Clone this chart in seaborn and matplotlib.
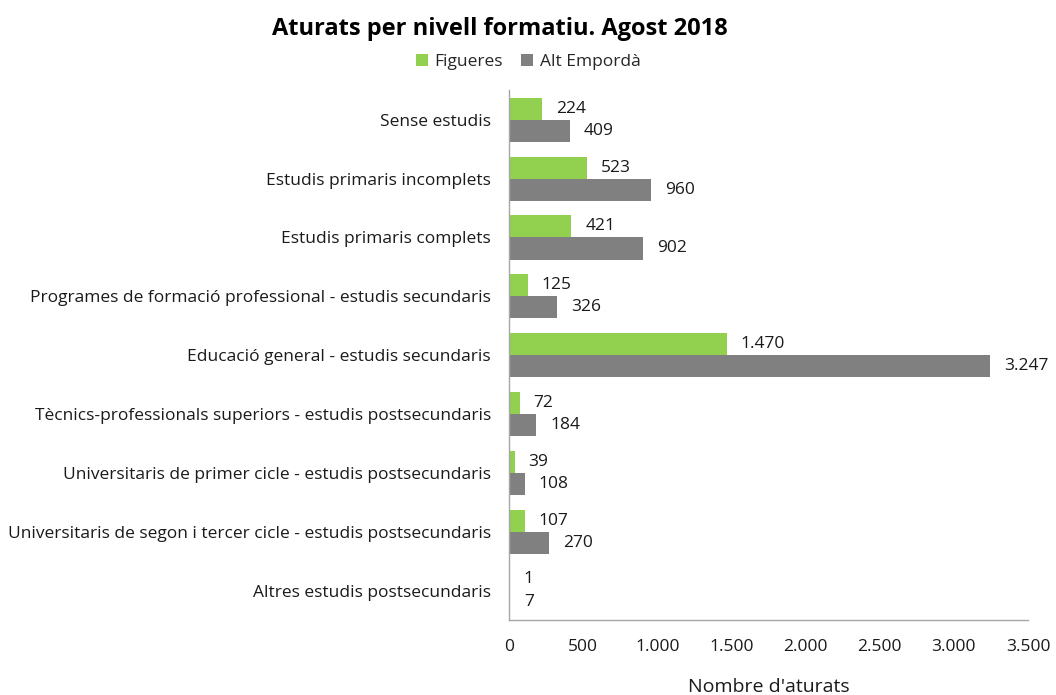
import pandas as pd
import matplotlib.pyplot as plt
import matplotlib.ticker as mticker
import seaborn as sns

# =====================================================
# DATA
# =====================================================

categories = [
    "Sense estudis",
    "Estudis primaris incomplets",
    "Estudis primaris complets",
    "Programes de formació professional - estudis secundaris",
    "Educació general - estudis secundaris",
    "Tècnics-professionals superiors - estudis postsecundaris",
    "Universitaris de primer cicle - estudis postsecundaris",
    "Universitaris de segon i tercer cicle - estudis postsecundaris",
    "Altres estudis postsecundaris",
]
figueres = [224, 523, 421, 125, 1470, 72, 39, 107, 1]
alt_emporda = [409, 960, 902, 326, 3247, 184, 108, 270, 7]
series_names = ["Figueres", "Alt Empordà"]
x_ticks = [0, 500, 1000, 1500, 2000, 2500, 3000, 3500]

df = pd.DataFrame({
    "nivell": categories * 2,
    "aturats": figueres + alt_emporda,
    "serie": [series_names[0]] * len(categories) + [series_names[1]] * len(categories),
})

# =====================================================
# PLOT
# =====================================================

sns.set_style("white")
plt.rcParams["font.family"] = ["Open Sans", "DejaVu Sans"]

fig = plt.figure(figsize=(10.56, 6.95), dpi=100)
ax = fig.add_axes([0.482, 0.108, 0.4915, 0.762])

sns.barplot(
    data=df,
    x="aturats",
    y="nivell",
    hue="serie",
    orient="h",
    palette=["#92D050", "#808080"],
    width=0.75,
    saturation=1,
    linewidth=0,
    ax=ax,
)


def fmt(v):
    return f"{int(v):,}".replace(",", ".")


for cont in ax.containers:
    ax.bar_label(cont, labels=[fmt(v) for v in cont.datavalues],
                 padding=10, fontsize=12.5, color="#1a1a1a")

ax.set_xlim(0, 3500)
ax.set_xticks(x_ticks)
ax.xaxis.set_major_formatter(mticker.FuncFormatter(lambda v, p: fmt(v)))
ax.tick_params(axis="x", length=0, pad=14, labelsize=12.5, labelcolor="#1a1a1a")
ax.tick_params(axis="y", length=0, pad=13, labelsize=12.5, labelcolor="#1a1a1a")
ax.set_ylabel("")
ax.set_xlabel("Nombre d'aturats", fontsize=14, color="#1a1a1a", labelpad=16)

for s in ["top", "right"]:
    ax.spines[s].set_visible(False)
for s in ["left", "bottom"]:
    ax.spines[s].set_color("#A6A6A6")
    ax.spines[s].set_linewidth(1)

ax.legend(
    loc="lower center",
    bbox_to_anchor=(528 / 1056, 0.884),
    bbox_transform=fig.transFigure,
    ncol=2,
    frameon=False,
    fontsize=12.5,
    handlelength=0.7,
    handleheight=0.7,
    handletextpad=0.4,
    columnspacing=1.0,
    borderaxespad=0.2,
)

fig.text(500 / 1056, 0.958, "Aturats per nivell formatiu. Agost 2018",
         ha="center", va="center", fontsize=17, fontweight="bold", color="black")

plt.savefig("out.png", dpi=100)
plt.close()
